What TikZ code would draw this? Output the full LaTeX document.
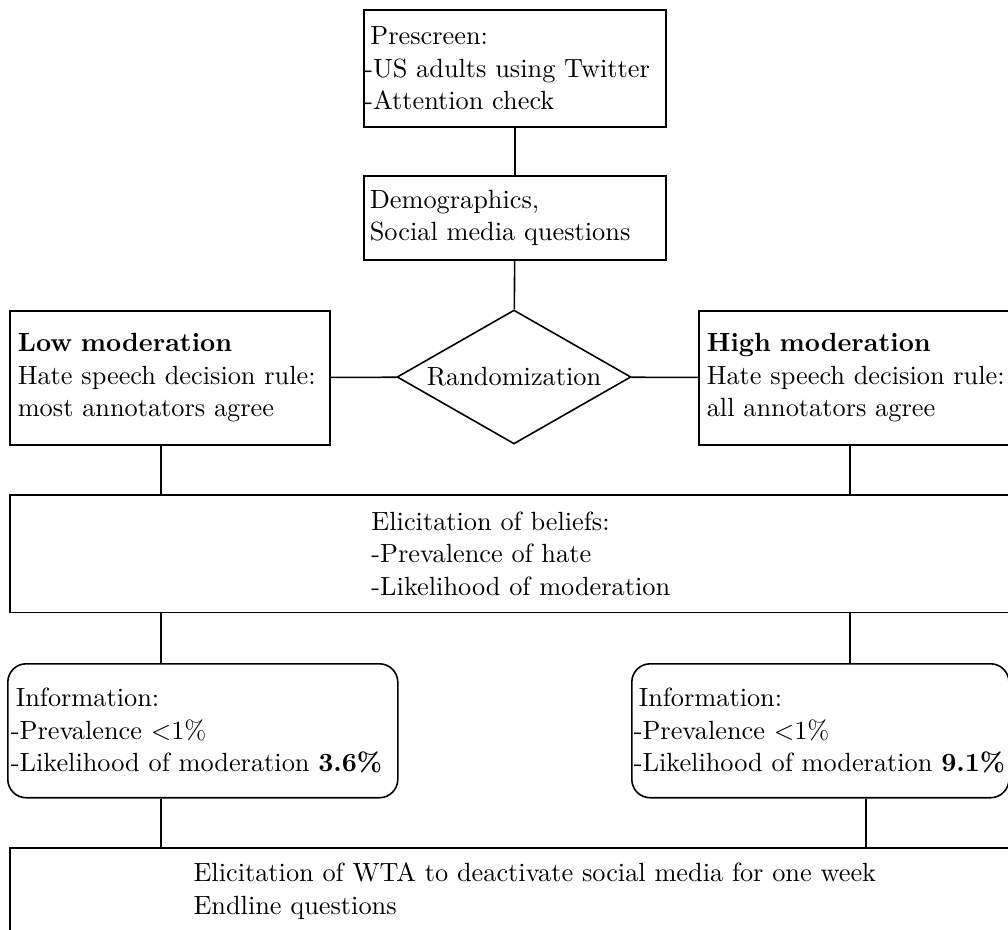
\documentclass[tikz,border=0pt]{standalone}
\usepackage{tikz}
\usetikzlibrary{shapes.geometric}
\tikzset{plain box/.style={draw,semithick,rectangle,anchor=north west,align=left,inner ysep=0pt,inner xsep=#1},plain box/.default=0pt}
\tikzset{info box/.style={plain box=#1,rounded corners=7pt},info box/.default=0pt}
\tikzset{choice/.style={draw,semithick,diamond,aspect=1.75,inner sep=0pt}}
\tikzset{link/.style={semithick}}

\begin{document}
\fontsize{10pt}{12.4pt}\selectfont
\begin{tikzpicture}[x=0.38pt,y=-0.38pt]

	\useasboundingbox (0,0) rectangle (1008,930);
	\clip (0,0) rectangle (1008,930);

	% Prescreen and demographics
	\node [plain box=0.2pt, text width=114.4pt, minimum width=114.8pt, minimum height=44.5pt]
		(prescreen) at (363,9) {\hspace*{2.3pt}Prescreen:\\-US adults using Twitter\\-Attention check};
	\node [plain box=2.3pt, text width=110.2pt, minimum width=114.8pt, minimum height=31.9pt]
		(demographics) at (363,175) {Demographics,\\Social media questions};

	% The randomization diamond
	\node [choice, minimum width=88.9pt, minimum height=50.9pt]
		(randomization) at (514,377) {Randomization};

	% Low and high moderation
	\node [plain box=3.04pt, text width=115.5pt, minimum width=121.6pt, minimum height=50.9pt]
		(low) at (9,310) {\textbf{Low moderation}\\Hate speech decision rule:\\most annotators agree};
	\node [plain box=3.04pt, text width=115.5pt, minimum width=121.6pt, minimum height=50.9pt]
		(high) at (698,310) {\textbf{High moderation}\\Hate speech decision rule:\\all annotators agree};

	% Beliefs
	\node [plain box, minimum width=388.4pt, minimum height=44.8pt]
		(beliefs) at (9,494) {Elicitation of beliefs:\\-Prevalence of hate\\-Likelihood of moderation};

	% Information
	\node [info box=1.14pt, text width=145.9pt, minimum width=148.2pt, minimum height=50.9pt]
		(info low) at (7,663) {\hspace*{1.9pt}Information:\\-Prevalence $<$1\%\\-Likelihood of moderation \textbf{3.6\%}};
	\node [info box=0.76pt, text width=141.8pt, minimum width=143.3pt, minimum height=50.9pt]
		(info high) at (631,663) {\hspace*{1.9pt}Information:\\-Prevalence $<$1\%\\-Likelihood of moderation \textbf{9.1\%}};

	% WTA and endline
	\node [plain box, minimum width=399pt, minimum height=32.7pt]
		(wta) at (9,847) {Elicitation of WTA to deactivate social media for one week\\Endline questions};

	% The tracks of the vertical links
	\coordinate (left track)  at (161,0);
	\coordinate (right track) at (850,0);
	\coordinate (right exit)  at (866,0);

	% Links
	\draw [link] (prescreen) -- (demographics);
	\draw [link] (demographics) -- (randomization);
	\draw [link] (low) -- (randomization);
	\draw [link] (randomization) -- (high);
	\draw [link] (low.south -| left track) -- (beliefs.north -| left track);
	\draw [link] (high.south -| right track) -- (beliefs.north -| right track);
	\draw [link] (beliefs.south -| left track) -- (info low.north -| left track);
	\draw [link] (beliefs.south -| right track) -- (info high.north -| right track);
	\draw [link] (info low.south -| left track) -- (wta.north -| left track);
	\draw [link] (info high.south -| right exit) -- (wta.north -| right exit);

\end{tikzpicture}
\end{document}
